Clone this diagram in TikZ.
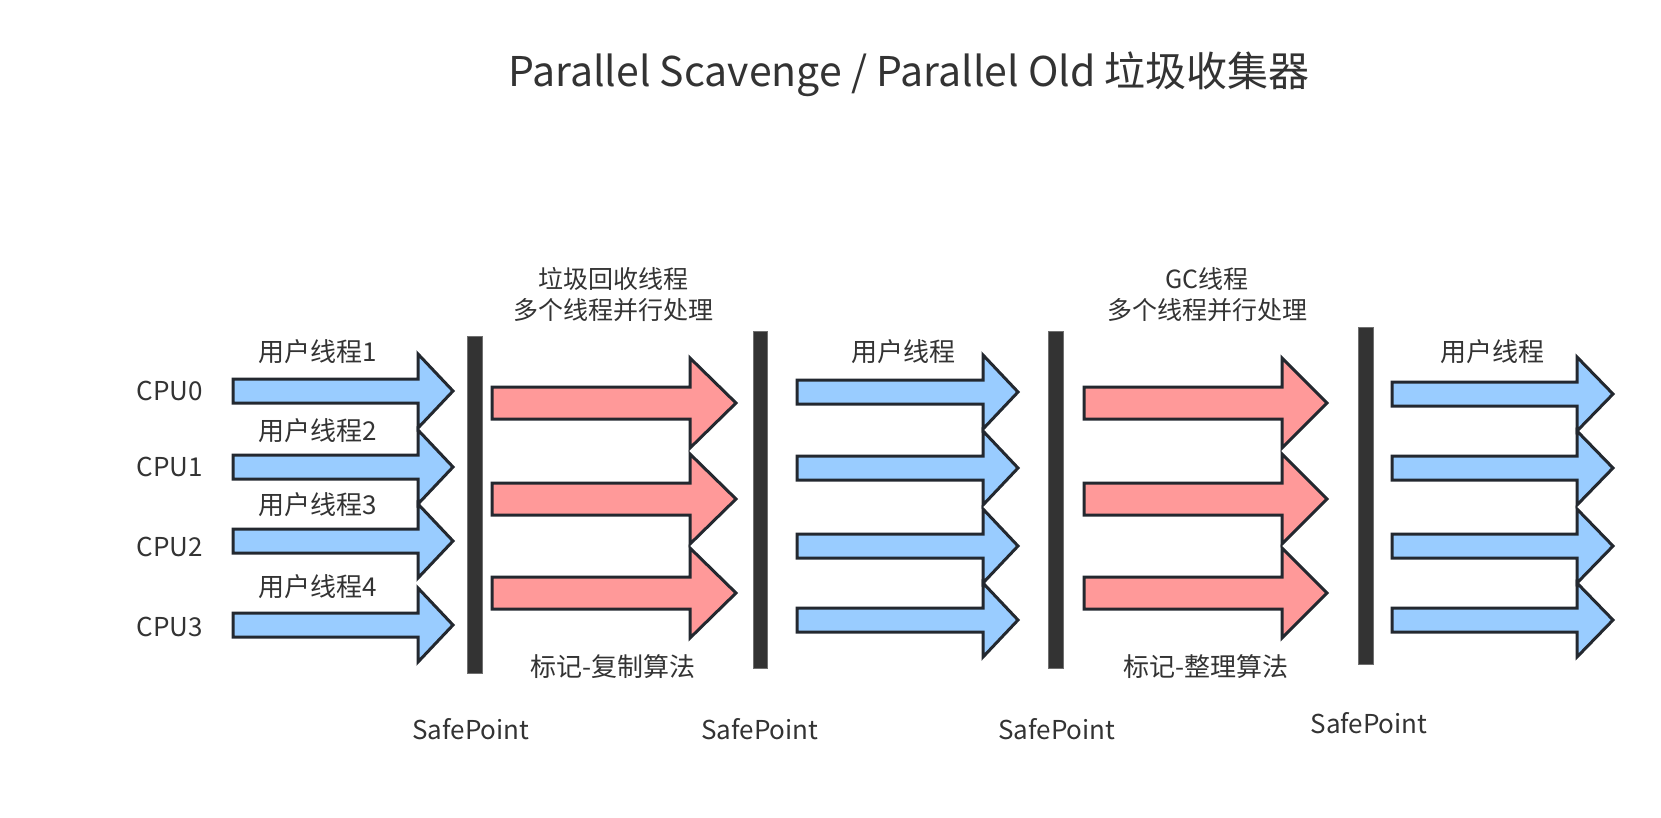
\documentclass[tikz,border=0pt]{standalone}
\usepackage{fontspec}
\setmainfont{Noto Sans CJK SC}
\usepackage{tikz}
\usetikzlibrary{positioning}
\usepackage{xcolor}
\definecolor{userblue}{HTML}{99CCFF}
\definecolor{gcred}{HTML}{FF9999}
\definecolor{edgedark}{HTML}{23282F}
\definecolor{bargray}{HTML}{333333}
\definecolor{textdark}{HTML}{333333}

% block arrow: fill, x start, head base x, tip x, centre y, shaft half, head half
\newcommand{\blockarrow}[7]{%
  \filldraw[arrowline,fill=#1](#2,#5-#6)--(#3,#5-#6)--(#3,#5-#7)--(#4,#5)
    --(#3,#5+#7)--(#3,#5+#6)--(#2,#5+#6)--cycle;}

\begin{document}
\begin{tikzpicture}[x=1pt,y=-1pt,
    arrowline/.style={draw=edgedark,line width=3pt,line join=miter},
    safebar/.style={fill=bargray,draw=bargray!70,line width=0.6pt},
    lbl/.style={text=textdark,font=\fontsize{26}{30}\selectfont,inner sep=0pt},
    lbltwo/.style={lbl,align=center,font=\fontsize{25}{31}\selectfont}]
  \useasboundingbox(0,0)rectangle(1661,817);
  \node[text=textdark,font=\fontsize{41}{46}\selectfont,inner sep=0pt](title)at(909,74)
    {Parallel Scavenge / Parallel Old 垃圾收集器};

  % safepoint bars
  \fill[safebar](467,336)rectangle(482,673);
  \fill[safebar](753,331)rectangle(767,668);
  \fill[safebar](1048,331)rectangle(1063,668);
  \fill[safebar](1358,327)rectangle(1373,664);
  \node[lbl](sp1)at(471,729){SafePoint};
  \node[lbl](sp2)at(760,729){SafePoint};
  \node[lbl](sp3)at(1057,729){SafePoint};
  \node[lbl](sp4)at(1369,723){SafePoint};

  % user threads before the first stop
  \foreach \yc in {391,467,541,625}
    \blockarrow{userblue}{233}{418}{453}{\yc}{12}{37};
  \foreach \yc/\cpu in {391/0,467/1,547/2,627/3}
    \node[lbl](cpu\cpu)at(170,\yc){CPU\cpu};
  \foreach \yc/\n in {352/1,431/2,505/3,587/4}
    \node[lbl](ut\n)at(318,\yc){用户线程\n};

  % young gc
  \foreach \yc in {403,499,593}
    \blockarrow{gcred}{492}{690}{736}{\yc}{16}{45};
  \node[lbltwo](gcyoung)at(613,295){垃圾回收线程\\多个线程并行处理};
  \node[lbl](copyalg)at(613,667){标记-复制算法};

  % user threads again
  \foreach \yc in {392,468,546,620}
    \blockarrow{userblue}{797}{983}{1018}{\yc}{12}{37};
  \node[lbl](utmid)at(903,352){用户线程};

  % old gc
  \foreach \yc in {403,499,593}
    \blockarrow{gcred}{1084}{1282}{1327}{\yc}{16}{45};
  \node[lbltwo](gcold)at(1207,295){GC线程\\多个线程并行处理};
  \node[lbl](compactalg)at(1206,667){标记-整理算法};

  % user threads after
  \foreach \yc in {394,468,546,620}
    \blockarrow{userblue}{1392}{1577}{1613}{\yc}{12}{37};
  \node[lbl](utend)at(1492,352){用户线程};
\end{tikzpicture}
\end{document}
